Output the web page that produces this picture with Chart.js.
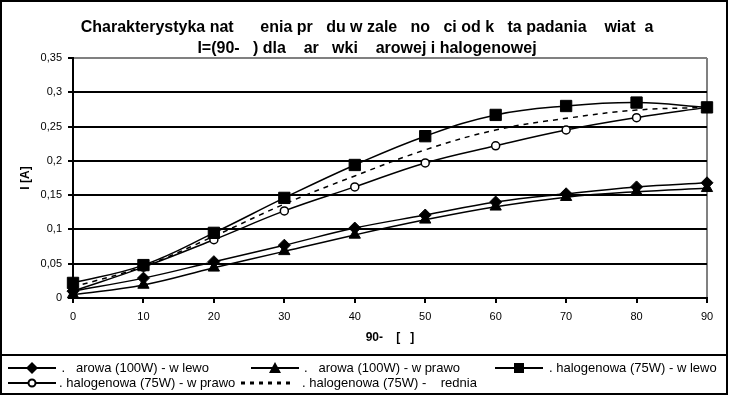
<!DOCTYPE html>
<html>
<head>
<meta charset="utf-8">
<script src="https://cdn.jsdelivr.net/npm/chart.js@4.4.1/dist/chart.umd.min.js"></script>
<style>
  body { margin: 0; background: #fff; font-family: 'Liberation Sans', Arial, sans-serif; }
  #wrap { position: relative; width: 729px; height: 395px; overflow: hidden; background: #fff; }
  #chart { position: absolute; left: 0; top: 0; }
  #title { position: absolute; left: 0; top: 16px; width: 734px; text-align: center; font-size: 16px; font-weight: bold; line-height: 21px; white-space: pre; color: #000; }
  #frame { position: absolute; left: 0; top: 0; width: 728px; height: 395px; box-sizing: border-box; border: 2px solid #000; pointer-events: none; }
  #legend { position: absolute; left: 0; top: 354px; width: 728px; height: 41px; box-sizing: border-box; border-top: 2px solid #000; font-size: 13px; color: #000; }
  .lg-mark { position: absolute; }
  .lg-text { position: absolute; white-space: pre; line-height: 14px; }
</style>
</head>
<body>
<div id="wrap">
  <canvas id="chart" width="729" height="355"></canvas>
  <div id="title"></div>
  <div id="legend"></div>
  <div id="frame"></div>
</div>
<script>
// kąt padania (90 - alfa), stopnie
const ANGLES = [0, 10, 20, 30, 40, 50, 60, 70, 80, 90];

// natężenie prądu I [A]
const ZAR_LEWO    = [0.010, 0.029, 0.053, 0.077, 0.102, 0.121, 0.140, 0.152, 0.162, 0.168];
const ZAR_PRAWO   = [0.005, 0.019, 0.044, 0.068, 0.092, 0.114, 0.133, 0.147, 0.155, 0.160];
const HAL_LEWO    = [0.022, 0.048, 0.095, 0.146, 0.194, 0.236, 0.267, 0.280, 0.285, 0.278];
const HAL_PRAWO   = [0.010, 0.045, 0.085, 0.127, 0.162, 0.197, 0.222, 0.245, 0.263, 0.278];
const HAL_SREDNIA = [0.016, 0.046, 0.090, 0.137, 0.178, 0.216, 0.245, 0.262, 0.274, 0.278];

const NB = n => '\u00a0'.repeat(n);

const LABELS = [
  NB(1) + '.' + NB(3) + 'arowa (100W) - w lewo',
  '.' + NB(3) + 'arowa (100W) - w prawo',
  '. halogenowa (75W) - w lewo',
  '. halogenowa (75W) - w prawo',
  '. halogenowa (75W) -' + NB(4) + 'rednia',
];

const TITLE = [
  'Charakterystyka nat' + NB(6) + 'enia pr' + NB(3) + 'du w zale' + NB(3) + 'no' + NB(3) +
    'ci od k' + NB(3) + 'ta padania' + NB(4) + 'wiat' + NB(2) + 'a',
  'I=(90-' + NB(3) + ') dla' + NB(4) + 'ar' + NB(3) + 'wki' + NB(4) + 'arowej i halogenowej',
];

const FONT = "'Liberation Sans', Arial, sans-serif";
Chart.defaults.font.family = FONT;
Chart.defaults.color = '#000';

document.getElementById('title').textContent = TITLE.join('\n');

const toXY = arr => arr.map((v, i) => ({ x: ANGLES[i], y: v }));

const base = {
  borderColor: '#000',
  borderWidth: 1.5,
  pointBorderColor: '#000',
  pointBackgroundColor: '#000',
  pointBorderWidth: 1,
  tension: 0.4,
  clip: false,
};

const datasets = [
  { ...base, label: LABELS[0], data: toXY(ZAR_LEWO), pointStyle: 'rectRot', pointRadius: 6 },
  { ...base, label: LABELS[1], data: toXY(ZAR_PRAWO), pointStyle: 'triangle', pointRadius: 6.5 },
  { ...base, label: LABELS[2], data: toXY(HAL_LEWO), pointStyle: 'rect', pointRadius: 8 },
  { ...base, label: LABELS[3], data: toXY(HAL_PRAWO), pointStyle: 'circle', pointRadius: 4,
    pointBackgroundColor: '#fff', pointBorderWidth: 1.5 },
  { ...base, label: LABELS[4], data: toXY(HAL_SREDNIA), pointRadius: 0, borderDash: [5, 5] },
];

const fmtTick = v => String(Number(v.toFixed(2))).replace('.', ',');

new Chart(document.getElementById('chart'), {
  type: 'line',
  data: { datasets },
  options: {
    responsive: false,
    animation: false,
    events: [],
    layout: { padding: { left: 0, right: 22, top: 58, bottom: 0 } },
    plugins: {
      legend: { display: false },
      tooltip: { enabled: false },
    },
    scales: {
      x: {
        type: 'linear',
        min: 0,
        max: 90,
        ticks: { stepSize: 10, color: '#000', font: { size: 11 }, padding: 7 },
        grid: {
          drawOnChartArea: true,
          color: ctx => (ctx.tick && ctx.tick.value === 90 ? '#808080' : 'rgba(0,0,0,0)'),
          lineWidth: 2,
          tickColor: '#000',
          tickLength: 5,
        },
        border: { color: '#000', width: 2 },
        title: {
          display: true,
          text: '90-' + NB(4) + '[' + NB(3) + ']',
          color: '#000',
          font: { size: 12, weight: 'bold' },
          padding: { top: 0, bottom: 10 },
        },
        afterFit: s => { s.height = 57; },
      },
      y: {
        min: 0,
        max: 0.35,
        ticks: { stepSize: 0.05, color: '#000', font: { size: 11 }, padding: 6, callback: fmtTick },
        grid: {
          color: ctx => (ctx.tick && Math.abs(ctx.tick.value - 0.35) < 1e-6 ? '#808080' : '#000'),
          lineWidth: 2,
          tickColor: '#000',
          tickLength: 5,
        },
        border: { color: '#000', width: 2 },
        title: {
          display: true,
          text: 'I [A]',
          color: '#000',
          font: { size: 12, weight: 'bold' },
          padding: { top: 18, bottom: 0 },
        },
        afterFit: s => { s.width = 73; },
      },
    },
  },
});

// legenda (HTML) — linia z markerem jak w Excelu
const LEGEND_LAYOUT = [
  { mark: 'diamond',  lx: 8,   tx: 58,  row: 0 },
  { mark: 'triangle', lx: 251, tx: 304, row: 0 },
  { mark: 'square',   lx: 495, tx: 549, row: 0 },
  { mark: 'circle',   lx: 8,   tx: 59,  row: 1 },
  { mark: 'dash',     lx: 241, tx: 302, row: 1 },
];

function markSvg(kind) {
  const line = kind === 'dash'
    ? '<line x1="0" y1="7" x2="50" y2="7" stroke="#000" stroke-width="3" stroke-dasharray="4 5"/>'
    : '<line x1="0" y1="7" x2="48" y2="7" stroke="#000" stroke-width="2"/>';
  let m = '';
  if (kind === 'diamond') m = '<polygon points="24,1 30,7 24,13 18,7" fill="#000"/>';
  if (kind === 'triangle') m = '<polygon points="24,1 30,12 18,12" fill="#000"/>';
  if (kind === 'square') m = '<rect x="19" y="2" width="10" height="10" fill="#000"/>';
  if (kind === 'circle') m = '<circle cx="24" cy="7" r="3.5" fill="#fff" stroke="#000" stroke-width="2"/>';
  return `<svg width="52" height="14" viewBox="0 0 52 14">${line}${m}</svg>`;
}

const legend = document.getElementById('legend');
legend.innerHTML = LEGEND_LAYOUT.map((it, i) => {
  const top = it.row === 0 ? 5 : 20;
  return `<div class="lg-mark" style="left:${it.lx}px;top:${top}px;">${markSvg(it.mark)}</div>` +
         `<div class="lg-text" style="left:${it.tx}px;top:${top}px;">${LABELS[i]}</div>`;
}).join('');
</script>
</body>
</html>
